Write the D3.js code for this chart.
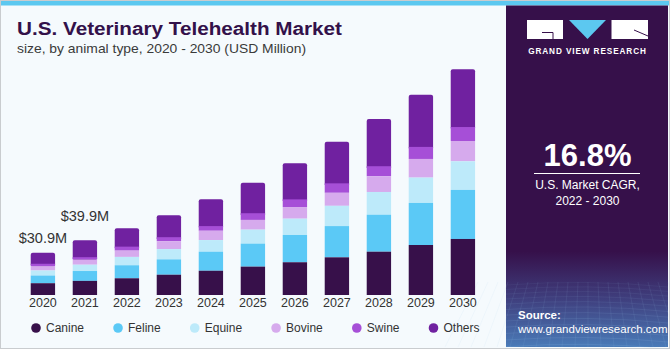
<!DOCTYPE html>
<html>
<head>
<meta charset="utf-8">
<script src="https://cdn.jsdelivr.net/npm/d3@7"></script>
<style>
  body { margin: 0; background: #fff; }
  text { font-family: "Liberation Sans", Arial, sans-serif; }
</style>
</head>
<body>
<svg id="chart"></svg>
<script>
// market size, USD Million
var years  = [2020, 2021, 2022, 2023, 2024, 2025, 2026, 2027, 2028, 2029, 2030];
var canine = [8.6, 10.3, 12.2, 14.8, 17.7, 20.7, 23.9, 27.5, 31.6, 36.5, 40.9];
var feline = [5.6, 7.2, 9.5, 11.2, 13.9, 16.8, 19.9, 22.8, 27.0, 30.7, 35.8];
var equine = [3.7, 4.6, 6.1, 7.5, 8.5, 10.2, 11.9, 14.8, 16.6, 18.5, 20.9];
var bovine = [3.2, 3.8, 4.6, 5.8, 6.8, 7.1, 8.5, 9.5, 11.5, 13.6, 14.8];
var swine  = [1.7, 1.7, 2.9, 2.9, 3.4, 4.9, 5.6, 6.9, 7.3, 8.8, 10.2];
var others = [8.1, 12.3, 13.4, 16.1, 19.5, 22.3, 26.3, 30.4, 34.5, 38.0, 42.1];

var keys   = ["Canine", "Feline", "Equine", "Bovine", "Swine", "Others"];
var colors = ["#37104a", "#5bc9f6", "#bdeafa", "#d6aaed", "#a64fd7", "#7021a0"];

var callouts = [{ year: 2020, text: "$30.9M" }, { year: 2021, text: "$39.9M" }];

var width = 670;
var height = 350;

var svg = d3.select('#chart')
  .attr("width", width)
  .attr("height", height);

var defs = svg.append("defs");

// frame
svg.append("rect").attr("x", 0.5).attr("y", 0.5).attr("width", width - 1).attr("height", height - 2)
  .attr("fill", "#f5fafd").attr("stroke", "#c9cccf");
svg.append("rect").attr("x", 1).attr("y", 1).attr("width", width - 2).attr("height", 4.5).attr("fill", "#5cc8f0");

// right panel
var grad = defs.append("linearGradient").attr("id", "panelgrad")
  .attr("x1", 0).attr("y1", 0).attr("x2", 0).attr("y2", 1);
grad.append("stop").attr("offset", "0%").attr("stop-color", "#36104a");
grad.append("stop").attr("offset", "72%").attr("stop-color", "#36104a");
grad.append("stop").attr("offset", "86%").attr("stop-color", "#3f3f7e");
grad.append("stop").attr("offset", "100%").attr("stop-color", "#4a7bb8");

var panel = svg.append("g");
panel.append("rect").attr("x", 506).attr("y", 5.5).attr("width", 162).attr("height", 341.5)
  .attr("fill", "url(#panelgrad)");

// faint grid at the bottom of the panel
var grid = panel.append("g").attr("stroke", "#9fc6ea").attr("stroke-width", 0.5).attr("fill", "none");
d3.range(0, 15).forEach(function (i) {
  var yy = 285 + i * 4.3 + i * i * 0.12;
  grid.append("path")
    .attr("d", "M506," + yy + " Q587," + (yy - 6) + " 668," + (yy + 2))
    .attr("stroke-opacity", 0.12 + i * 0.015);
});
d3.range(0, 22).forEach(function (i) {
  var xx = 500 + i * 8;
  grid.append("line")
    .attr("x1", xx + (i - 11) * 2).attr("y1", 282)
    .attr("x2", xx + (i - 11) * 5).attr("y2", 347)
    .attr("stroke-opacity", 0.18);
});

// logo
var logo = panel.append("g");
logo.append("rect").attr("x", 527).attr("y", 20).attr("width", 36).attr("height", 19).attr("fill", "#fff");
logo.append("path").attr("d", "M542,32.5 H553 V39").attr("stroke", "#36104a").attr("stroke-width", 1).attr("fill", "none");
logo.append("path").attr("d", "M569,20 H606 L587.5,39 Z").attr("fill", "#5cc8f0");
logo.append("rect").attr("x", 611.5).attr("y", 20).attr("width", 36.5).attr("height", 19).attr("fill", "#fff");
logo.append("path").attr("d", "M634,30 L648,36").attr("stroke", "#36104a").attr("stroke-width", 1).attr("fill", "none");
panel.append("text").attr("x", 587.5).attr("y", 54).attr("text-anchor", "middle")
  .attr("fill", "#fff").attr("font-size", 8.2).attr("font-weight", "bold").attr("letter-spacing", 0.9)
  .text("GRAND VIEW RESEARCH");

panel.append("text").attr("x", 587.5).attr("y", 166).attr("text-anchor", "middle")
  .attr("fill", "#fff").attr("font-size", 31).attr("font-weight", "bold").text("16.8%");
panel.append("line").attr("x1", 534).attr("x2", 640).attr("y1", 173.5).attr("y2", 173.5)
  .attr("stroke", "#fff").attr("stroke-width", 1);
panel.append("text").attr("x", 587.5).attr("y", 189).attr("text-anchor", "middle")
  .attr("fill", "#fff").attr("font-size", 12).text("U.S. Market CAGR,");
panel.append("text").attr("x", 587.5).attr("y", 205).attr("text-anchor", "middle")
  .attr("fill", "#fff").attr("font-size", 12).text("2022 - 2030");

panel.append("text").attr("x", 518).attr("y", 319).attr("fill", "#fff")
  .attr("font-size", 11.5).attr("font-weight", "bold").text("Source:");
panel.append("text").attr("x", 518).attr("y", 333).attr("fill", "#fff")
  .attr("font-size", 11.5).text("www.grandviewresearch.com");

// titles
svg.append("text").attr("x", 17).attr("y", 34.5).attr("fill", "#33114a")
  .attr("font-size", 18).attr("font-weight", "bold")
  .attr("textLength", 325).attr("lengthAdjust", "spacingAndGlyphs")
  .text("U.S. Veterinary Telehealth Market");
svg.append("text").attr("x", 17).attr("y", 52.5).attr("fill", "#3a3a3a")
  .attr("font-size", 13.5)
  .attr("textLength", 289).attr("lengthAdjust", "spacingAndGlyphs")
  .text("size, by animal type, 2020 - 2030 (USD Million)");

// bars
var rows = years.map(function (yr, i) {
  return { year: yr, Canine: canine[i], Feline: feline[i], Equine: equine[i],
           Bovine: bovine[i], Swine: swine[i], Others: others[i] };
});

var stacked = d3.stack().keys(keys)(rows);

var x = d3.scaleBand().domain(years).range([21.9, 483.9]).paddingInner(0.42).paddingOuter(0.21);
var y = d3.scaleLinear().domain([0, 165]).range([295, 68.95]);
var color = d3.scaleOrdinal().domain(keys).range(colors);

// draw top series first so its rounded bottom hides under the next one
var layers = svg.append("g").selectAll("g")
  .data(stacked.slice().reverse())
  .join("g")
  .attr("fill", function (d) { return color(d.key); });

layers.selectAll("rect")
  .data(function (d) { return d.map(function (v) { v.key = d.key; return v; }); })
  .join("rect")
  .attr("x", function (d) { return x(d.data.year); })
  .attr("width", x.bandwidth())
  .attr("y", function (d) { return y(d[1]); })
  .attr("height", function (d) {
    var h = y(d[0]) - y(d[1]);
    return d.key === "Others" ? h + 3 : h;
  })
  .attr("rx", function (d) { return d.key === "Others" ? 2 : 0; });

// value callouts
var totals = rows.map(function (r) { return d3.sum(keys, function (k) { return r[k]; }); });
var lift = { 2020: 10, 2021: 19 };
svg.append("g").selectAll("text")
  .data(callouts)
  .join("text")
  .attr("x", function (d) { return x(d.year) + x.bandwidth() / 2; })
  .attr("y", function (d) { return y(totals[years.indexOf(d.year)]) - lift[d.year]; })
  .attr("text-anchor", "middle")
  .attr("fill", "#333")
  .attr("font-size", 14.5)
  .text(function (d) { return d.text; });

// year axis
var axis = svg.append("g").attr("transform", "translate(0,295)")
  .call(d3.axisBottom(x).tickSize(0).tickPadding(3));
axis.select(".domain").remove();
axis.selectAll("text").attr("fill", "#333").attr("font-size", 12.5)
  .attr("font-family", "'Liberation Sans', Arial, sans-serif");

// legend
var legend = svg.append("g").attr("transform", "translate(0,328)");
var lx = 36;
keys.forEach(function (k) {
  legend.append("circle").attr("cx", lx).attr("cy", 0).attr("r", 4.8).attr("fill", color(k));
  var t = legend.append("text").attr("x", lx + 10).attr("y", 4.2).attr("fill", "#333")
    .attr("font-size", 12).text(k);
  lx += 10 + t.node().getComputedTextLength() + 34;
});
</script>
</body>
</html>
